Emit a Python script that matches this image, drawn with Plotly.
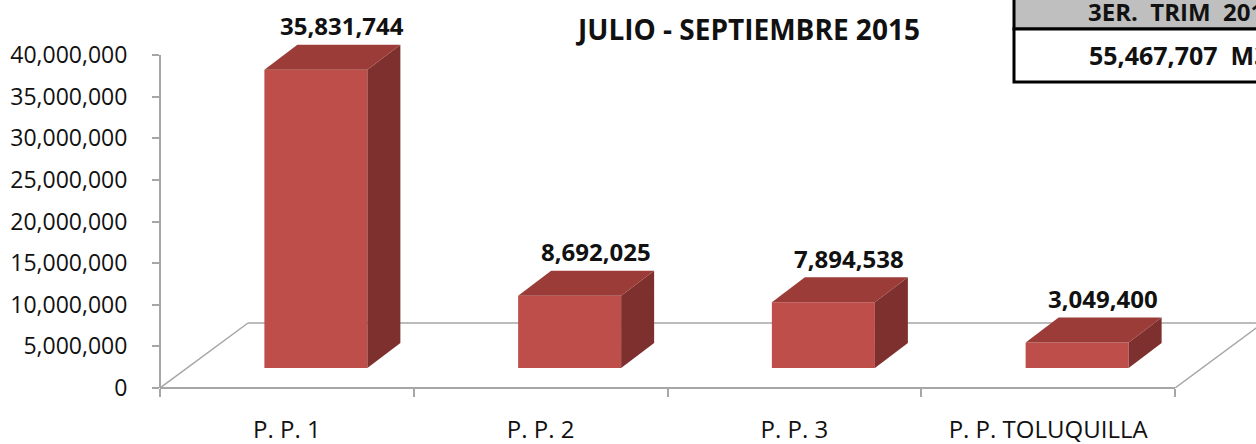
import plotly.graph_objects as go

# ---------------- data ----------------
categories = ["P. P. 1", "P. P. 2", "P. P. 3", "P. P. TOLUQUILLA"]
values = [35831744, 8692025, 7894538, 3049400]
y_tick_values = [0, 5000000, 10000000, 15000000, 20000000, 25000000, 30000000, 35000000, 40000000]
title_text = "JULIO - SEPTIEMBRE 2015"
table_header = "3ER.\u00a0\u00a0TRIM\u00a0\u00a02015"
table_total = "55,467,707\u00a0\u00a0M3"

# ---------------- layout geometry ----------------
W, H = 1256, 444
ML, MR, MT, MB = 160, 0, 0, 56
plot_w = W - ML - MR
plot_h = H - MT - MB
y_axis_top = y_tick_values[-1]
px_per_unit = 333.0 / y_axis_top
cat_px = 1015.0 / len(categories)
x_range = [-0.5, -0.5 + plot_w / cat_px]
y_range = [0, plot_h / px_per_unit]


def ux(px):
    return px / cat_px


def uy(px):
    return px / px_per_unit


FRONT_DX, FRONT_DY = ux(29), uy(20)
BAR_W = ux(103)
DEPTH_DX, DEPTH_DY = ux(33), uy(25)
FLOOR_DX, FLOOR_DY = ux(88), uy(65)

FRONT_COL = "#BE4E4A"
TOP_COL = "#9B3C39"
SIDE_COL = "#7D302E"
GRID_COL = "#A6A6A6"
FONT = "Open Sans"

xs = [i + FRONT_DX for i in range(len(categories))]

fig = go.Figure()
fig.add_trace(go.Bar(
    x=xs, y=values, base=FRONT_DY, width=BAR_W,
    marker=dict(color=FRONT_COL, line=dict(width=0)),
    hoverinfo="skip", showlegend=False,
))

shapes = []
# floor
n = len(categories)
x_left, x_right = -0.5, n - 0.5
floor_line = dict(color=GRID_COL, width=1.5)
shapes.append(dict(type="line", xref="x", yref="y", x0=x_left, y0=0,
                   x1=x_left + FLOOR_DX, y1=FLOOR_DY, line=floor_line, layer="below"))
shapes.append(dict(type="line", xref="x", yref="y", x0=x_left + FLOOR_DX, y0=FLOOR_DY,
                   x1=x_right + FLOOR_DX, y1=FLOOR_DY, line=floor_line, layer="below"))
shapes.append(dict(type="line", xref="x", yref="y", x0=x_right, y0=0,
                   x1=x_right + FLOOR_DX, y1=FLOOR_DY, line=floor_line, layer="below"))

# 3D faces of bars
for xc, v in zip(xs, values):
    xl = xc - BAR_W / 2
    xr = xc + BAR_W / 2
    b = FRONT_DY
    t = FRONT_DY + v
    side = (f"M {xr},{b} L {xr + DEPTH_DX},{b + DEPTH_DY} "
            f"L {xr + DEPTH_DX},{t + DEPTH_DY} L {xr},{t} Z")
    top = (f"M {xl},{t} L {xl + DEPTH_DX},{t + DEPTH_DY} "
           f"L {xr + DEPTH_DX},{t + DEPTH_DY} L {xr},{t} Z")
    shapes.append(dict(type="path", xref="x", yref="y", path=side,
                       fillcolor=SIDE_COL, line=dict(width=0), layer="above"))
    shapes.append(dict(type="path", xref="x", yref="y", path=top,
                       fillcolor=TOP_COL, line=dict(width=0), layer="above"))

# axis lines (paper coords)
axis_line = dict(color=GRID_COL, width=2)
shapes.append(dict(type="line", xref="paper", yref="paper", x0=0, x1=0,
                   y0=0, y1=y_axis_top * px_per_unit / plot_h, line=axis_line))
shapes.append(dict(type="line", xref="paper", yref="paper", x0=0,
                   x1=(n * cat_px) / plot_w, y0=0, y1=0, line=axis_line))


def px_to_paper_x(px):
    return (px - ML) / plot_w


def py_to_paper_y(py):
    return (MT + plot_h - py) / plot_h


# table (top right)
tx0 = px_to_paper_x(1014)
tx1 = px_to_paper_x(1300)
shapes.append(dict(type="rect", xref="paper", yref="paper", x0=tx0, x1=tx1,
                   y0=py_to_paper_y(29), y1=py_to_paper_y(-5),
                   fillcolor="#BFBFBF", line=dict(color="#000000", width=3)))
shapes.append(dict(type="rect", xref="paper", yref="paper", x0=tx0, x1=tx1,
                   y0=py_to_paper_y(82), y1=py_to_paper_y(29),
                   fillcolor="#FFFFFF", line=dict(color="#000000", width=3)))

annotations = []
for xc, v in zip(xs, values):
    annotations.append(dict(
        x=xc + ux(26), y=FRONT_DY + v + DEPTH_DY, xref="x", yref="y",
        text=f"{v:,}", showarrow=False, yanchor="middle", xanchor="center",
        yshift=19, font=dict(family=FONT, size=24, color="#111111", weight="bold"),
    ))
annotations.append(dict(
    x=px_to_paper_x(747), y=py_to_paper_y(29), xref="paper", yref="paper",
    text=f"<b>{title_text}</b>", showarrow=False, xanchor="center", yanchor="middle",
    font=dict(family=FONT, size=28, color="#111111"),
))
annotations.append(dict(
    x=px_to_paper_x(1086), y=py_to_paper_y(11), xref="paper", yref="paper",
    text=f"<b>{table_header}</b>", showarrow=False, xanchor="left", yanchor="middle",
    font=dict(family=FONT, size=24, color="#111111"),
))
annotations.append(dict(
    x=px_to_paper_x(1087), y=py_to_paper_y(55), xref="paper", yref="paper",
    text=f"<b>{table_total}</b>", showarrow=False, xanchor="left", yanchor="middle",
    font=dict(family=FONT, size=25, color="#111111"),
))

fig.update_layout(
    width=W, height=H, template="none",
    margin=dict(l=ML, r=MR, t=MT, b=MB, pad=0),
    paper_bgcolor="white", plot_bgcolor="white",
    showlegend=False, shapes=shapes, annotations=annotations,
    xaxis=dict(
        range=x_range, showgrid=False, zeroline=False, showline=False,
        tickmode="array", tickvals=list(range(n)), ticktext=categories,
        ticks="", ticklabelstandoff=25, automargin=False,
        tickfont=dict(family=FONT, size=24, color="#111111"),
        minor=dict(tickmode="array", tickvals=[i - 0.5 for i in range(n + 1)],
                   ticks="outside", ticklen=8, tickwidth=1.5, tickcolor=GRID_COL,
                   showgrid=False),
    ),
    yaxis=dict(
        range=y_range, showgrid=False, zeroline=False, showline=False,
        tickmode="array", tickvals=y_tick_values, tickformat=",",
        ticks="outside", ticklen=7, tickwidth=1.5, tickcolor=GRID_COL,
        ticklabelstandoff=20, automargin=False,
        tickfont=dict(family=FONT, size=23, color="#111111"),
    ),
)

fig.write_html(
    "out.html",
    config={"displayModeBar": False},
    post_script="document.body.style.margin='0';document.body.style.overflow='hidden';",
)
